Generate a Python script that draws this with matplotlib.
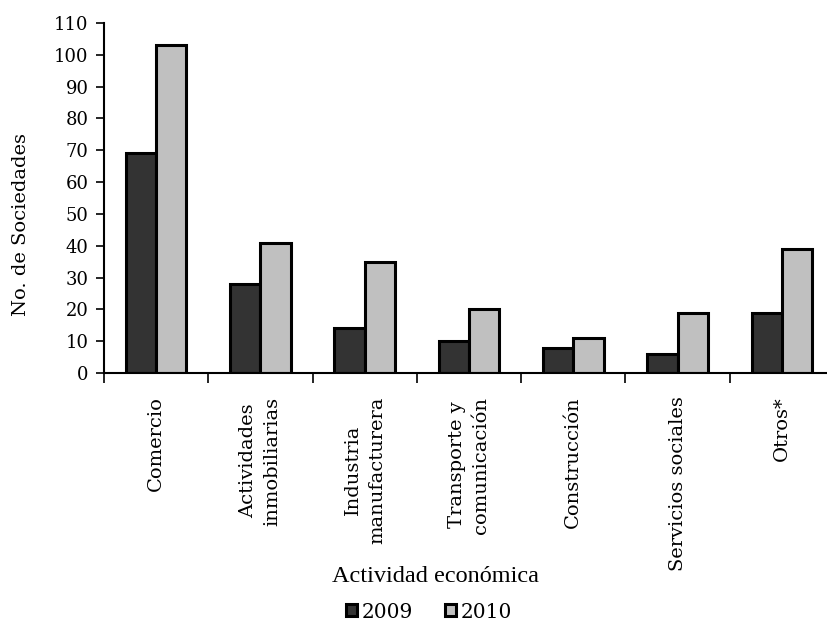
import numpy as np
import matplotlib
matplotlib.use("Agg")
import matplotlib.pyplot as plt

plt.rcParams['font.family'] = ['DejaVu Serif']

categorias = ["Comercio", "Actividades\ninmobiliarias", "Industria\nmanufacturera",
              "Transporte y\ncomunicación", "Construcción", "Servicios sociales", "Otros*"]
v2009 = [69, 28, 14, 10, 8, 6, 19]
v2010 = [103, 41, 35, 20, 11, 19, 39]
yticks = list(range(0, 111, 10))

fig = plt.figure(figsize=(8.27, 6.22), dpi=100)
ax = fig.add_axes([104/827, 249/622, 730/827, 350/622])

x = np.arange(len(categorias))
w = 0.29
ax.bar(x - w/2, v2009, w, color="#333333", edgecolor="black", linewidth=2.2, label="2009")
ax.bar(x + w/2, v2010, w, color="#c0c0c0", edgecolor="black", linewidth=2.2, label="2010")

ax.set_xlim(-0.5, len(categorias) - 0.5)
ax.set_ylim(0, 110)
ax.set_yticks(yticks)
ax.tick_params(axis='y', labelsize=13, direction='out', length=6, width=1.2, pad=5)

# ticks at category boundaries, labels at centers
ax.set_xticks(np.arange(len(categorias) + 1) - 0.5)
ax.set_xticklabels([])
ax.tick_params(axis='x', which='major', direction='out', length=7, width=1.2)
ax.set_xticks(x, minor=True)
ax.set_xticklabels(categorias, minor=True, rotation=90, ha='center', va='top',
                   multialignment='center', fontsize=14, linespacing=1.45)
ax.tick_params(axis='x', which='minor', length=0, pad=17)

ax.spines['right'].set_visible(False)
ax.spines['top'].set_visible(False)
ax.spines['left'].set_linewidth(1.5)
ax.spines['bottom'].set_linewidth(1.5)

fig.text(21/827, 1 - 224/622, "No. de Sociedades", rotation=90, ha='center', va='center',
         fontsize=14)
fig.text(435/827, 1 - 576/622, "Actividad económica", ha='center', va='center',
         fontsize=17.5, family='Liberation Serif')

fig.legend(loc='center', bbox_to_anchor=(429/827, 1 - 612/622), ncol=2, frameon=False,
           fontsize=14.5, handlelength=0.55, handleheight=0.55, handletextpad=0.2,
           columnspacing=1.6, borderpad=0)

plt.savefig("out.png", dpi=100)
